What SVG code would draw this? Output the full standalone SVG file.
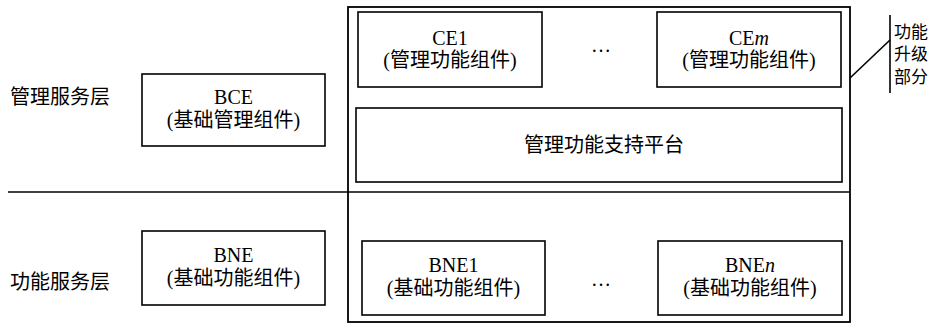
<svg xmlns="http://www.w3.org/2000/svg" width="939" height="324" viewBox="0 0 939 324">
<style>
  .box { fill: #fff; stroke: #000; stroke-width: 1.6; }
  .outer { fill: none; stroke: #000; stroke-width: 1.8; }
  .ln { fill: none; stroke: #000; stroke-width: 1.6; }
  text { font-family: "Liberation Serif", "Noto Sans CJK SC", serif; font-size: 20px; fill: #000; text-anchor: middle; }
  .lbl { text-anchor: start; }
  .side { font-size: 17px; text-anchor: start; }
</style>
<rect width="939" height="324" fill="#fff"/>
<g id="connectors">
  <line class="ln" x1="8" y1="192" x2="850" y2="192"/>
  <line class="ln" x1="890" y1="15" x2="890" y2="93"/>
  <line class="ln" x1="850" y1="78" x2="890" y2="40"/>
</g>
<g id="upgrade-area">
  <rect class="outer" x="348" y="7" width="502" height="315"/>
</g>
<g id="label-mgmt-layer"><text class="lbl" x="10" y="104">管理服务层</text></g>
<g id="label-func-layer"><text class="lbl" x="10" y="289">功能服务层</text></g>
<g id="label-upgrade">
  <text class="side" x="894" y="38">功能</text>
  <text class="side" x="894" y="60">升级</text>
  <text class="side" x="894" y="83">部分</text>
</g>
<g id="bce">
  <rect class="box" x="142" y="74" width="183" height="72"/>
  <text x="233.5" y="104">BCE</text>
  <text x="233.5" y="127">(基础管理组件)</text>
</g>
<g id="bne">
  <rect class="box" x="142" y="231" width="183" height="74"/>
  <text x="233.5" y="262">BNE</text>
  <text x="233.5" y="285">(基础功能组件)</text>
</g>
<g id="ce1">
  <rect class="box" x="358" y="12" width="184" height="75"/>
  <text x="450" y="45">CE1</text>
  <text x="450" y="67">(管理功能组件)</text>
</g>
<g id="ce-dots"><text x="601" y="52">…</text></g>
<g id="cem">
  <rect class="box" x="657" y="12" width="184" height="75"/>
  <text x="749" y="45">CE<tspan font-style="italic">m</tspan></text>
  <text x="749" y="67">(管理功能组件)</text>
</g>
<g id="platform">
  <rect class="box" x="356" y="108" width="486" height="74"/>
  <text x="604" y="152">管理功能支持平台</text>
</g>
<g id="bne1">
  <rect class="box" x="362" y="241" width="183" height="74"/>
  <text x="453.5" y="272">BNE1</text>
  <text x="453.5" y="295">(基础功能组件)</text>
</g>
<g id="bne-dots"><text x="601" y="286">…</text></g>
<g id="bnen">
  <rect class="box" x="658" y="241" width="184" height="74"/>
  <text x="750" y="272">BNE<tspan font-style="italic">n</tspan></text>
  <text x="750" y="295">(基础功能组件)</text>
</g>
</svg>
